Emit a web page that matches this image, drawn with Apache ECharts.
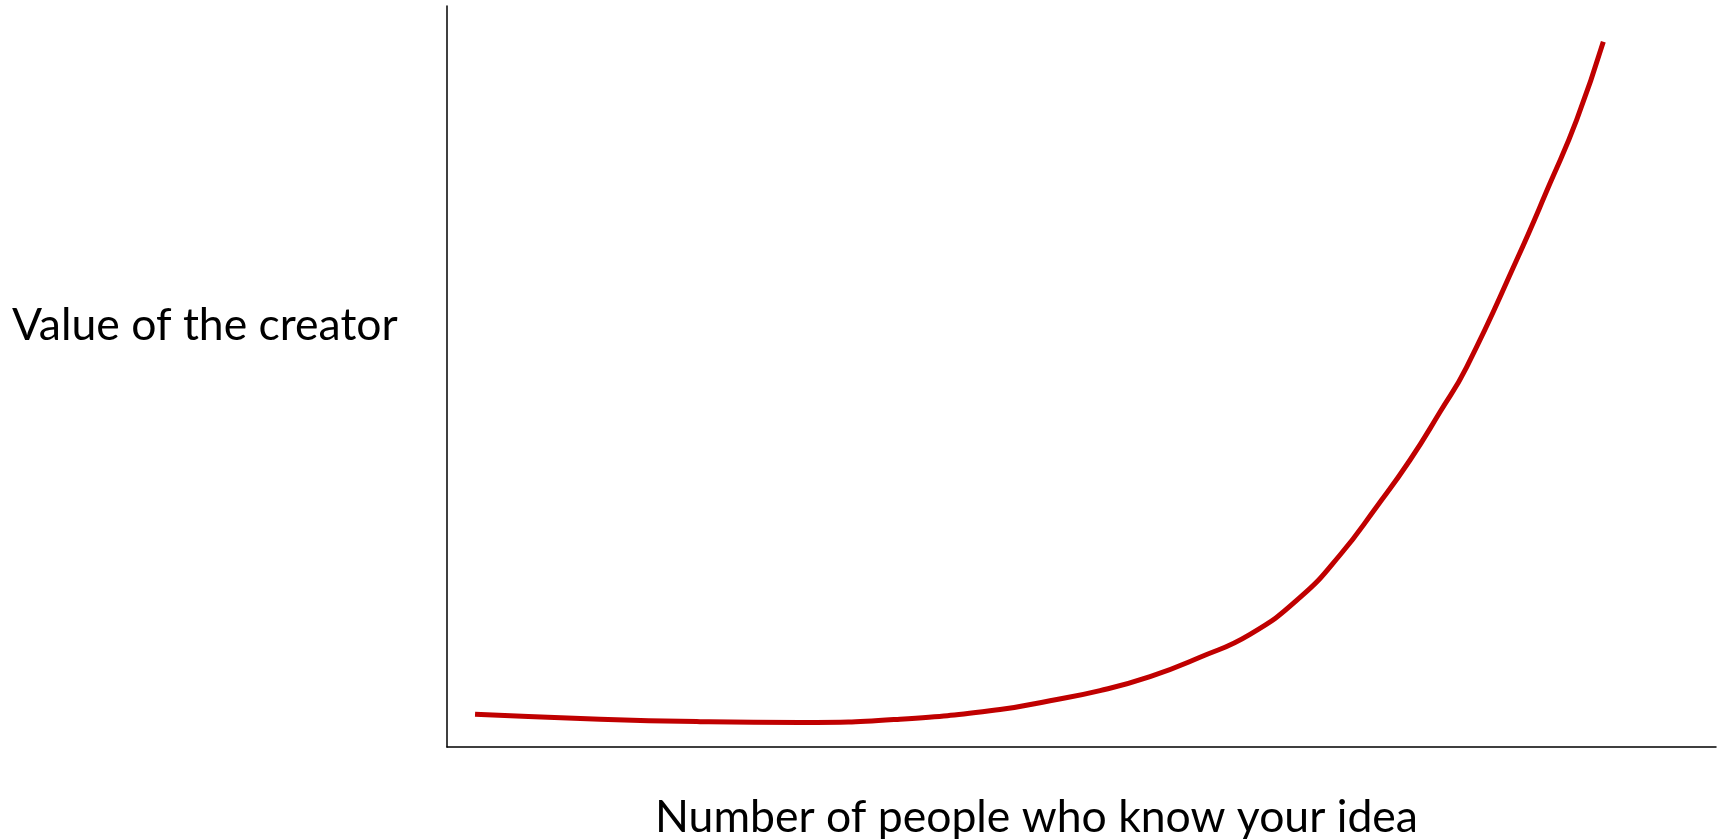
<!DOCTYPE html>
<html>
<head>
<meta charset="utf-8">
<script src="https://cdn.jsdelivr.net/npm/echarts@6/dist/echarts.min.js"></script>
<style>html,body{margin:0;padding:0;background:#fff;}#c{width:1719px;height:839px;}</style>
</head>
<body>
<div id="c"></div>
<script>
const xLabel = "Number of people who know your idea";
const yLabel = "Value of the creator";
const xs = [2.21, 12.06, 19.94, 27.82, 35.70, 43.58, 47.52, 51.46, 55.40, 59.34, 63.28, 67.22, 70.37, 73.26, 75.89, 78.25, 80.35, 84.29, 86.92, 89.02, 91.12];
const ys = [4.41, 3.75, 3.42, 3.30, 3.76, 5.06, 6.25, 7.60, 9.49, 12.11, 15.20, 20.18, 25.91, 32.43, 38.73, 45.21, 51.28, 65.72, 76.07, 84.62, 95.18];

const chart = echarts.init(document.getElementById('c'), null, {renderer: 'canvas'});
const font = 'Lato, "Open Sans", sans-serif';
chart.setOption({
  animation: false,
  backgroundColor: '#fff',
  grid: {left: 447, right: 3, top: 6, bottom: 92, containLabel: false},
  xAxis: {type: 'value', min: 0, max: 100,
    axisLine: {show: true, lineStyle: {color: '#000', width: 1.5}},
    axisTick: {show: false}, axisLabel: {show: false}, splitLine: {show: false}},
  yAxis: {type: 'value', min: 0, max: 100,
    axisLine: {show: true, lineStyle: {color: '#000', width: 1.5}},
    axisTick: {show: false}, axisLabel: {show: false}, splitLine: {show: false}},
  graphic: [
    {type: 'text', left: 12, top: 303, style: {text: yLabel, font: '44.5px ' + font, fill: '#000'}},
    {type: 'text', left: 655, top: 795, style: {text: xLabel, font: '44.5px ' + font, fill: '#000'}}
  ],
  series: [{
    type: 'line',
    data: xs.map((x, i) => [x, ys[i]]),
    smooth: 0.5,
    showSymbol: false,
    lineStyle: {color: '#C00000', width: 5}
  }]
});
</script>
</body>
</html>
